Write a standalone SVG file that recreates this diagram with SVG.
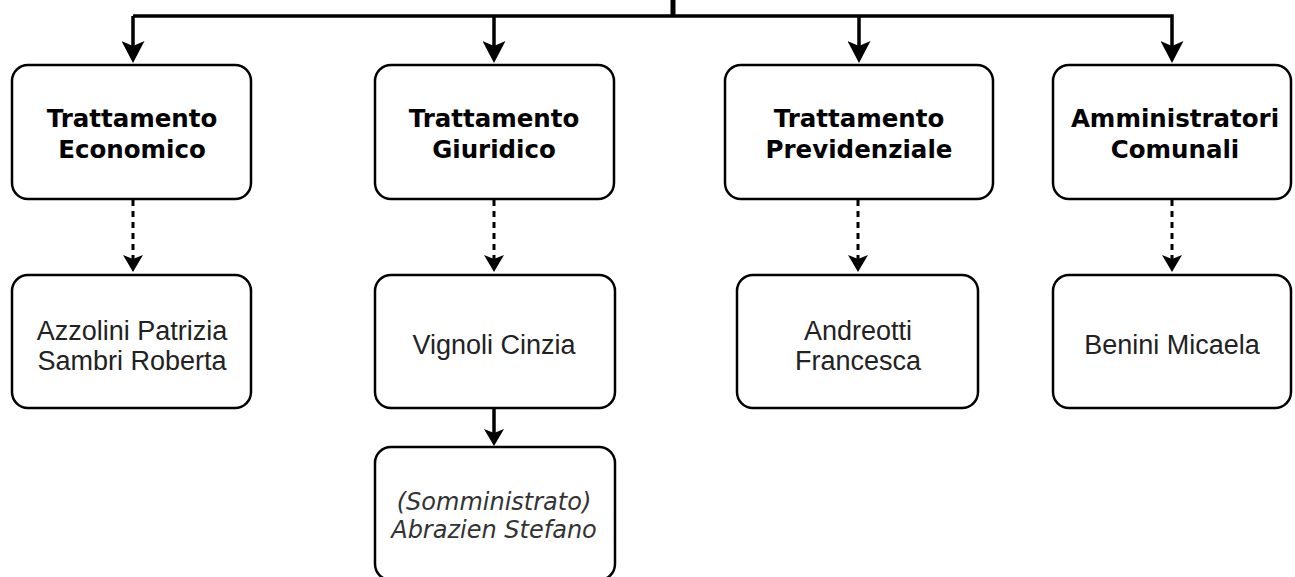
<svg xmlns="http://www.w3.org/2000/svg" width="1295" height="577" viewBox="0 0 1295 577">
<style>
.box{fill:#fff;stroke:#000;stroke-width:2.5}
.hd{font-family:"DejaVu Sans",sans-serif;font-weight:bold;font-size:24.5px;fill:#000;text-anchor:middle}
.nm{font-family:"Liberation Sans",Arial,sans-serif;font-size:27px;fill:#222;text-anchor:middle}
.it{font-family:"DejaVu Sans",sans-serif;font-style:italic;font-size:24px;fill:#333;text-anchor:middle}
.c{fill:none;stroke:#000;stroke-width:3.5}
.d{fill:none;stroke:#000;stroke-width:3;stroke-dasharray:6 5}
</style>
<defs>
<marker id="ah" markerUnits="userSpaceOnUse" markerWidth="22" markerHeight="23" viewBox="0 0 22 23" refX="12" refY="11.5" orient="auto">
<path d="M0,0 L22,11.5 L0,23 L5,11.5 Z" fill="#000"/>
</marker>
<marker id="ahs" markerUnits="userSpaceOnUse" markerWidth="17" markerHeight="20" viewBox="0 0 17 20" refX="10" refY="10" orient="auto">
<path d="M0,0 L17,10 L0,20 L4,10 Z" fill="#000"/>
</marker>
</defs>
<g id="connectors">
<line x1="673" y1="0" x2="673" y2="17" stroke="#000" stroke-width="5"/>
<polyline class="c" points="133,16 1172,16 1172,53" marker-end="url(#ah)"/>
<path class="c" d="M133,16 L133,53" marker-end="url(#ah)"/>
<path class="c" d="M494,16 L494,53" marker-end="url(#ah)"/>
<path class="c" d="M859,16 L859,53" marker-end="url(#ah)"/>
<path class="d" d="M133,200 L133,265" marker-end="url(#ahs)"/>
<path class="d" d="M494,200 L494,265" marker-end="url(#ahs)"/>
<path class="d" d="M858,200 L858,265" marker-end="url(#ahs)"/>
<path class="d" d="M1172,200 L1172,265" marker-end="url(#ahs)"/>
<path class="c" d="M494,409 L494,439" marker-end="url(#ahs)"/>
</g>
<g id="n1"><rect class="box" x="12" y="65" width="239" height="134" rx="16"/><text class="hd" x="132" y="127">Trattamento</text><text class="hd" x="132" y="158">Economico</text></g>
<g id="n2"><rect class="box" x="375" y="65" width="239" height="134" rx="16"/><text class="hd" x="494" y="127">Trattamento</text><text class="hd" x="494" y="158">Giuridico</text></g>
<g id="n3"><rect class="box" x="725" y="65" width="268" height="134" rx="16"/><text class="hd" x="859" y="127">Trattamento</text><text class="hd" x="859" y="158">Previdenziale</text></g>
<g id="n4"><rect class="box" x="1053" y="65" width="238" height="134" rx="16"/><text class="hd" x="1175" y="127">Amministratori</text><text class="hd" x="1175" y="158">Comunali</text></g>
<g id="n5"><rect class="box" x="12" y="275" width="239" height="133" rx="16"/><text class="nm" x="132" y="340">Azzolini Patrizia</text><text class="nm" x="132" y="370">Sambri Roberta</text></g>
<g id="n6"><rect class="box" x="375" y="275" width="240" height="133" rx="16"/><text class="nm" x="494" y="354">Vignoli Cinzia</text></g>
<g id="n7"><rect class="box" x="737" y="275" width="241" height="133" rx="16"/><text class="nm" x="858" y="340">Andreotti</text><text class="nm" x="858" y="370">Francesca</text></g>
<g id="n8"><rect class="box" x="1053" y="275" width="238" height="133" rx="16"/><text class="nm" x="1172" y="354">Benini Micaela</text></g>
<g id="n9"><rect class="box" x="375" y="447" width="240" height="133" rx="16"/><text class="it" x="494" y="510">(Somministrato)</text><text class="it" x="494" y="538">Abrazien Stefano</text></g>
</svg>
